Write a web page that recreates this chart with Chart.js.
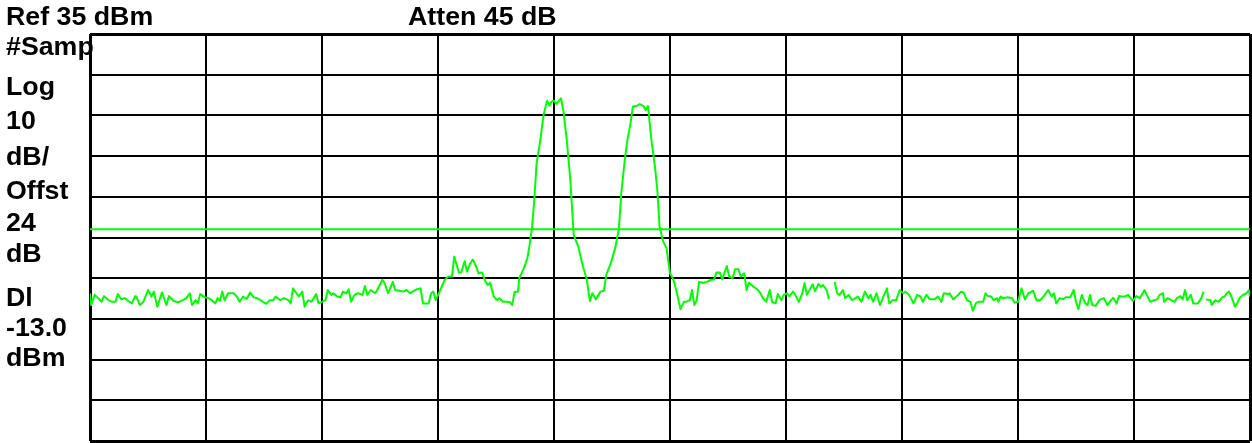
<!DOCTYPE html>
<html>
<head>
<meta charset="utf-8">
<script src="https://cdn.jsdelivr.net/npm/chart.js@4/dist/chart.umd.min.js"></script>
<style>
  body { margin: 0; background: #fff; }
  #wrap { position: relative; width: 1252px; height: 443px; }
  #wrap canvas { position: absolute; left: 0; top: 0; }
  .lbl {
    position: absolute;
    font-family: "Liberation Sans", Arial, sans-serif;
    font-weight: bold;
    font-size: 25px;
    line-height: 25px;
    color: #000;
    white-space: nowrap;
    transform: scaleX(1.07);
    transform-origin: left top;
  }
</style>
</head>
<body>
<div id="wrap">
  <canvas id="spectrum" width="1252" height="443"></canvas>
  <div class="lbl" style="left:6px;top:4px">Ref 35 dBm</div>
  <div class="lbl" style="left:408px;top:4px">Atten 45 dB</div>
  <div class="lbl" style="left:6px;top:34px">#Samp</div>
  <div class="lbl" style="left:6px;top:74px">Log</div>
  <div class="lbl" style="left:6px;top:108px">10</div>
  <div class="lbl" style="left:6px;top:144px">dB/</div>
  <div class="lbl" style="left:6px;top:178px">Offst</div>
  <div class="lbl" style="left:6px;top:210px">24</div>
  <div class="lbl" style="left:6px;top:241px">dB</div>
  <div class="lbl" style="left:6px;top:285px">Dl</div>
  <div class="lbl" style="left:6px;top:315px">-13.0</div>
  <div class="lbl" style="left:6px;top:345px">dBm</div>
</div>
<script>
// screen settings
var refLevel = 35;       // dBm, top of screen
var dbPerDiv = 10;
var numDivs = 10;
var displayLine = -13;   // dBm

// trace position across the screen, in divisions (0..10)
var traceDiv = [
  0.00, 0.01, 0.04, 0.07, 0.10, 0.12, 0.16, 0.19, 0.22, 0.24, 0.27, 0.30, 0.33, 0.36, 0.39, 0.40, 0.43, 0.46, 0.50, 0.53,
  0.55, 0.58, 0.62, 0.66, 0.68, 0.72, 0.76, 0.80, 0.83, 0.86, 0.88, 0.91, 0.93, 0.95, 0.99, 1.02, 1.05, 1.08, 1.10, 1.12,
  1.14, 1.16, 1.19, 1.24, 1.27, 1.29, 1.32, 1.35, 1.38, 1.41, 1.44, 1.47, 1.49, 1.52, 1.55, 1.58, 1.60, 1.64, 1.67, 1.71,
  1.73, 1.75, 1.78, 1.80, 1.83, 1.85, 1.88, 1.91, 1.95, 1.97, 2.00, 2.03, 2.05, 2.08, 2.10, 2.13, 2.16, 2.18, 2.21, 2.23,
  2.25, 2.28, 2.31, 2.35, 2.37, 2.39, 2.42, 2.46, 2.49, 2.52, 2.54, 2.57, 2.61, 2.63, 2.67, 2.70, 2.73, 2.76, 2.79, 2.82,
  2.85, 2.87, 2.92, 2.94, 2.96, 2.98, 3.02, 3.06, 3.09, 3.12, 3.14, 3.18, 3.20, 3.23, 3.25, 3.28, 3.30, 3.33, 3.35, 3.38,
  3.41, 3.43, 3.45, 3.48, 3.51, 3.53, 3.56, 3.59, 3.62, 3.64, 3.66, 3.69, 3.70, 3.74, 3.77, 3.79, 3.81, 3.83, 3.85, 3.88,
  3.91, 3.94, 3.96, 3.98, 4.00, 4.02, 4.06, 4.08, 4.11, 4.14, 4.17, 4.21, 4.25, 4.28, 4.31, 4.33, 4.36, 4.40, 4.43, 4.45,
  4.49, 4.53, 4.56, 4.58, 4.61, 4.63, 4.66, 4.68, 4.71, 4.74, 4.77, 4.79, 4.81, 4.84, 4.87, 4.89, 4.91, 4.94, 4.97, 5.00,
  5.03, 5.06, 5.09, 5.12, 5.14, 5.17, 5.19, 5.21, 5.23, 5.25, 5.29, 5.32, 5.35, 5.38, 5.40, 5.43, 5.45, 5.49, 5.51, 5.54,
  5.56, 5.59, 5.61, 5.64, 5.66, 5.68, 5.72, 5.75, 5.78, 5.80, 5.83, 5.86, 5.88, 5.91, 5.93, 5.96, 5.98, 6.01, 6.03, 6.06,
  6.08, 6.11, 6.14, 6.16, 6.18, 6.21, 6.23, 6.25, 6.28, 6.30, 6.32, 6.35, 6.37, 6.40, 6.42, 6.44, 6.46, 6.49, 6.51, 6.54,
  6.57, 6.60, 6.62, 6.65, 6.68, 6.71, 6.73, 6.75, 6.78, 6.81, 6.84, 6.87, 6.89, 6.92, 6.95, 6.98, 7.01, 7.03, 7.06, 7.10,
  7.13, 7.16, 7.18, 7.21, 7.24, 7.28, 7.31, 7.34, 7.36, 7.40, 7.41, 7.44, 7.47, 7.51, 7.53, 7.56, 7.59, 7.61, 7.64, 7.67,
  7.70, 7.72, 7.74, 7.77, 7.79, 7.82, 7.83, 7.85, 7.87, 7.91, 7.95, 7.97, 8.00, 8.03, 8.06, 8.09, 8.13, 8.16, 8.19, 8.22,
  8.26, 8.29, 8.31, 8.33, 8.36, 8.39, 8.41, 8.45, 8.48, 8.50, 8.52, 8.55, 8.58, 8.60, 8.62, 8.64, 8.67, 8.70, 8.74, 8.77,
  8.79, 8.82, 8.85, 8.87, 8.89, 8.92, 8.95, 8.97, 8.99, 9.02, 9.05, 9.09, 9.11, 9.14, 9.17, 9.20, 9.22, 9.25, 9.26, 9.29,
  9.32, 9.35, 9.37, 9.40, 9.42, 9.44, 9.46, 9.49, 9.51, 9.55, 9.58, 9.60, 9.61, 9.62, 9.66, 9.67, 9.70, 9.73, 9.76, 9.78,
  9.80, 9.82, 9.84, 9.87, 9.89, 9.91, 9.94, 9.97, 9.99, 10.00
];

// trace level in dBm (null = gap in the trace)
var traceDbm = [
  -28.7, -31.6, -29.1, -29.9, -30.8, -29.4, -30.4, -30.8, -30.8, -28.9, -30.2, -29.9, -30.6, -31.2, -29.4, -29.5, -31.6, -30.8, -27.9, -29.5,
  -28.3, -32.0, -28.5, -31.6, -29.4, -30.6, -30.9, -30.4, -29.9, -28.7, -31.6, -30.4, -31.2, -28.9, -29.7, -29.9, -30.4, -31.2, -29.9, -30.6,
  -28.3, -30.4, -28.7, -28.7, -29.7, -30.8, -29.5, -30.1, -28.5, -29.7, -29.9, -30.4, -30.8, -31.3, -30.4, -30.4, -29.5, -30.4, -29.9, -30.4,
  -31.2, -27.5, -28.7, -29.5, -28.3, -32.0, -30.4, -30.8, -28.9, -31.2, -30.8, -30.4, -27.9, -29.1, -28.7, -29.5, -29.7, -28.3, -28.7, -27.7,
  -30.8, -29.1, -28.7, -29.1, -26.9, -29.1, -27.9, -28.7, -27.1, -25.4, -26.2, -28.7, -25.9, -27.9, -28.1, -28.3, -27.9, -28.7, -28.1, -27.7,
  -27.5, -31.2, -31.2, -28.7, -28.3, -30.4, -27.9, -25.3, -24.6, -24.6, -19.7, -23.6, -23.6, -20.8, -23.4, -21.2, -20.4, -22.2, -23.8, -23.6,
  -25.9, -26.7, -26.1, -29.5, -30.4, -29.9, -30.8, -30.8, -30.9, -31.6, -28.3, -28.3, -25.0, -22.6, -20.1, -16.8, -12.7, -5.8, 3.2, 8.5,
  15.1, 18.6, 17.4, 18.4, 18.6, 17.8, 19.2, 16.3, 9.0, -0.6, -14.4, -17.3, -22.2, -25.0, -30.6, -28.7, -30.2, -28.3, -28.1, -24.2,
  -21.3, -17.3, -12.7, -4.1, 4.0, 8.5, 13.1, 17.2, 17.3, 17.8, 17.3, 16.3, 17.3, 9.0, 2.4, -3.0, -12.3, -15.9, -17.6, -23.8,
  -25.4, -28.7, -32.6, -30.8, -30.8, -30.4, -27.9, -31.6, -30.4, -25.9, -26.1, -25.9, -25.4, -25.3, -23.6, -23.6, -25.3, -22.0, -24.6, -25.0,
  -22.8, -22.8, -24.6, -23.8, -27.9, -26.1, -27.1, -27.7, -28.7, -29.9, -30.8, -27.9, -30.8, -31.2, -28.9, -30.4, -29.1, -28.7, -29.5, -28.3,
  -29.1, -30.8, -28.7, -26.2, -29.1, -27.5, -26.5, -28.2, -26.4, -27.1, -26.7, -27.9, -30.2, null, -25.9, -28.7, -29.1, -27.9, -29.9, -29.1,
  -30.4, -29.9, -29.5, -30.8, -28.3, -29.9, -29.1, -30.8, -28.7, -31.6, -29.5, -27.5, -31.2, -30.4, -30.4, -27.9, -28.7, -28.3, -29.1, -31.2,
  -29.1, -29.5, -30.8, -29.1, -30.2, -30.2, -29.5, -30.8, -28.7, -28.9, -28.7, -30.2, -29.5, -28.3, -28.5, -30.4, -30.8, -33.0, -31.0, -30.8,
  -30.8, -28.7, -29.4, -29.5, -30.4, -29.9, -30.8, -29.5, -29.9, -29.7, -29.9, -31.0, -30.8, -27.5, -30.2, -28.7, -28.1, -30.4, -30.4, -29.5,
  -27.9, -29.5, -28.7, -31.2, -29.9, -30.2, -29.7, -29.7, -27.9, -30.8, -32.6, -29.1, -31.2, -31.6, -29.1, -31.6, -31.8, -30.4, -29.9, -31.6,
  -30.8, -29.8, -31.2, -29.4, -29.5, -29.5, -29.1, -29.9, -30.6, -29.4, -29.9, -27.9, -29.1, -30.8, -30.4, -30.2, -29.1, -28.7, -30.8, -29.9,
  -30.4, -30.8, -29.9, -29.4, -30.2, -27.9, -30.4, -29.1, -31.2, -31.2, -29.9, -28.3, null, -30.2, -30.4, -31.6, -30.4, -30.8, -29.7, -29.5,
  -28.7, -28.3, -29.5, -32.0, -31.2, -29.9, -29.1, -28.7, -27.9, -29.5
];

var green = '#00ff00';

var tracePoints = traceDiv.map(function(x, i) { return {x: x, y: traceDbm[i]}; });
var dlPoints = [{x: 0, y: displayLine}, {x: numDivs, y: displayLine}];

// outer frame is thicker than the inner graticule
function gridWidth(ctx) {
    return (ctx.index === 0 || ctx.index === numDivs) ? 3 : 2;
}

new Chart(document.getElementById("spectrum"), {
    type: 'scatter',
    data: {
        datasets: [{
            data: tracePoints,
            showLine: true,
            borderColor: green,
            borderWidth: 2,
            borderJoinStyle: 'round',
            pointRadius: 0,
            spanGaps: false
        }, {
            data: dlPoints,
            showLine: true,
            borderColor: green,
            borderWidth: 2,
            pointRadius: 0
        }]
    },
    options: {
        responsive: false,
        animation: false,
        devicePixelRatio: 1,
        layout: { padding: { left: 90, top: 34, right: 2, bottom: 2 } },
        plugins: { legend: { display: false }, tooltip: { enabled: false } },
        scales: {
            x: {
                type: 'linear',
                min: 0,
                max: numDivs,
                ticks: { display: false, stepSize: 1 },
                grid: { color: '#000', lineWidth: gridWidth, drawTicks: false },
                border: { display: false }
            },
            y: {
                type: 'linear',
                min: refLevel - dbPerDiv * numDivs,
                max: refLevel,
                ticks: { display: false, stepSize: dbPerDiv },
                grid: { color: '#000', lineWidth: gridWidth, drawTicks: false },
                border: { display: false }
            }
        }
    }
});
</script>
</body>
</html>
